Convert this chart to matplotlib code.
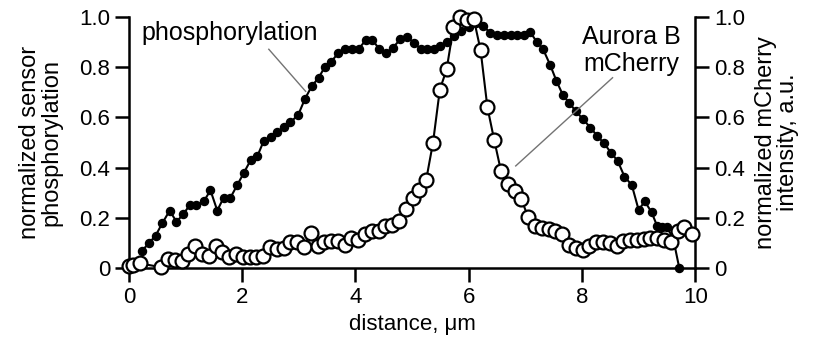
import matplotlib
matplotlib.use("Agg")
import matplotlib.pyplot as plt

plt.rcParams["font.family"] = ["Liberation Sans", "DejaVu Sans"]

# -------------------------------------------------------------------------
# Datos
# -------------------------------------------------------------------------

# fosforilación del sensor (puntos negros)
dist_phos = [0.23, 0.35, 0.47, 0.59, 0.72, 0.84, 0.96, 1.07, 1.19, 1.32,
             1.44, 1.56, 1.67, 1.79, 1.91, 2.03, 2.15, 2.27, 2.38, 2.50,
             2.62, 2.73, 2.85, 2.99, 3.11, 3.23, 3.35, 3.46, 3.57, 3.70,
             3.82, 3.94, 4.06, 4.18, 4.30, 4.42, 4.54, 4.66, 4.79, 4.91,
             5.03, 5.15, 5.27, 5.39, 5.50, 5.62, 5.74, 5.87, 6.00, 6.13,
             6.26, 6.38, 6.50, 6.62, 6.74, 6.86, 6.97, 7.08, 7.20, 7.31,
             7.44, 7.55, 7.66, 7.77, 7.89, 8.02, 8.15, 8.27, 8.39, 8.51,
             8.63, 8.75, 8.88, 9.00, 9.11, 9.23, 9.33, 9.42, 9.50, 9.61,
             9.72]
phos = [0.07, 0.10, 0.13, 0.18, 0.23, 0.185, 0.216, 0.25, 0.25, 0.266,
        0.31, 0.23, 0.28, 0.28, 0.33, 0.38, 0.43, 0.447, 0.506, 0.523,
        0.54, 0.56, 0.58, 0.61, 0.674, 0.724, 0.757, 0.80, 0.82, 0.856,
        0.872, 0.872, 0.872, 0.906, 0.906, 0.872, 0.856, 0.876, 0.909, 0.92,
        0.896, 0.872, 0.872, 0.872, 0.882, 0.90, 0.922, 0.942, 0.96, 0.975,
        0.962, 0.935, 0.925, 0.925, 0.925, 0.925, 0.925, 0.94, 0.90, 0.872,
        0.807, 0.744, 0.69, 0.658, 0.625, 0.592, 0.559, 0.526, 0.497, 0.46,
        0.427, 0.365, 0.331, 0.233, 0.266, 0.223, 0.167, 0.163, 0.163, 0.12,
        0.0]

# intensidad Aurora B mCherry (círculos abiertos)
dist_cherry = [0.00, 0.08, 0.20, 0.57, 0.69, 0.81, 0.93, 1.05, 1.17, 1.29,
               1.41, 1.53, 1.65, 1.77, 1.89, 2.01, 2.13, 2.25, 2.37, 2.49,
               2.61, 2.73, 2.85, 2.97, 3.09, 3.21, 3.33, 3.45, 3.57, 3.69,
               3.81, 3.93, 4.05, 4.17, 4.29, 4.41, 4.53, 4.65, 4.77, 4.89,
               5.01, 5.13, 5.25, 5.37, 5.49, 5.61, 5.73, 5.85, 5.97, 6.09,
               6.21, 6.33, 6.45, 6.57, 6.69, 6.81, 6.93, 7.05, 7.17, 7.29,
               7.41, 7.53, 7.65, 7.77, 7.89, 8.01, 8.13, 8.25, 8.37, 8.49,
               8.61, 8.73, 8.85, 8.97, 9.09, 9.21, 9.33, 9.45, 9.57, 9.69,
               9.81, 9.95]
cherry = [0.01, 0.015, 0.02, 0.005, 0.038, 0.035, 0.03, 0.057, 0.088, 0.057,
          0.048, 0.088, 0.064, 0.044, 0.057, 0.044, 0.046, 0.046, 0.05, 0.085,
          0.077, 0.08, 0.104, 0.104, 0.086, 0.14, 0.088, 0.104, 0.11, 0.11,
          0.092, 0.12, 0.115, 0.135, 0.15, 0.148, 0.17, 0.172, 0.19, 0.237,
          0.28, 0.313, 0.353, 0.50, 0.71, 0.79, 0.957, 1.0, 0.985, 0.99,
          0.866, 0.64, 0.51, 0.387, 0.335, 0.308, 0.275, 0.203, 0.17, 0.16,
          0.158, 0.15, 0.137, 0.093, 0.08, 0.075, 0.09, 0.104, 0.104, 0.10,
          0.088, 0.11, 0.112, 0.112, 0.117, 0.12, 0.12, 0.113, 0.104, 0.15,
          0.163, 0.137]

x_ticks = [0, 2, 4, 6, 8, 10]
y_ticks = [0, 0.2, 0.4, 0.6, 0.8, 1.0]
y_ticklabels = ["0", "0.2", "0.4", "0.6", "0.8", "1.0"]

# -------------------------------------------------------------------------
# Figura
# -------------------------------------------------------------------------

fs = 16
fig = plt.figure(figsize=(8.16, 3.44), dpi=100)
ax = fig.add_axes([0.158, 0.2195, 0.694, 0.7325])
ax2 = ax.twinx()

ax.plot(dist_phos, phos, "-o", color="black", lw=1.5, ms=5.8,
        mfc="black", mec="black", clip_on=False, zorder=3)
ax2.plot(dist_cherry, cherry, "-o", color="black", lw=1.5, ms=10,
         mfc="white", mec="black", mew=1.6, clip_on=False, zorder=4)

for a in (ax, ax2):
    a.set_xlim(0, 10)
    a.set_ylim(0, 1)
    a.set_yticks(y_ticks)
    a.set_yticklabels(y_ticklabels)
    a.spines["top"].set_visible(False)
    for s in a.spines.values():
        s.set_linewidth(1.8)
    a.tick_params(direction="out", length=10, width=1.8, labelsize=fs, pad=3.5)

ax.spines["right"].set_visible(False)
ax2.spines["left"].set_visible(False)
ax2.spines["bottom"].set_visible(False)
ax.set_xticks(x_ticks)

ax.set_xlabel("distance, μm", fontsize=fs, labelpad=4)
ax.set_ylabel("normalized sensor\nphosphorylation", fontsize=17, linespacing=1.0,
              labelpad=12)
ax2.set_ylabel("normalized mCherry\nintensity, a.u.", fontsize=17, linespacing=1.0,
               rotation=90, labelpad=7)

# Anotaciones
ax.text(0.22, 0.935, "phosphorylation", fontsize=18, ha="left", va="center")
ax.plot([2.47, 3.12], [0.87, 0.703], color="0.45", lw=1)
ax.text(8.87, 0.865, "Aurora B\nmCherry", fontsize=18, ha="center", va="center",
        linespacing=1.15)
ax2.plot([8.54, 6.83], [0.757, 0.407], color="0.45", lw=1, zorder=2)

fig.savefig("out.png", dpi=100)
